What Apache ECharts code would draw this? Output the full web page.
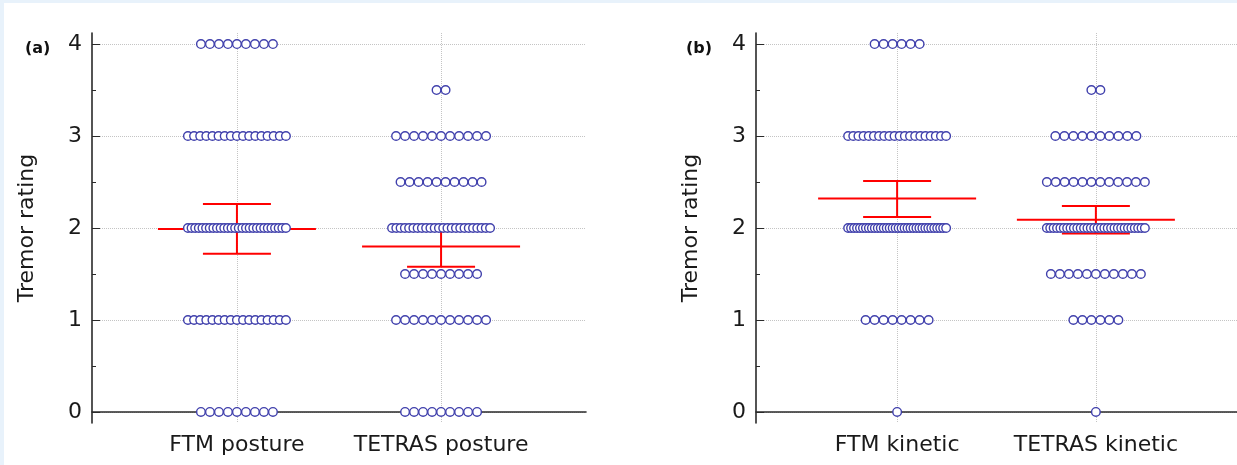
<!DOCTYPE html>
<html>
<head>
<meta charset="utf-8">
<script src="https://cdn.jsdelivr.net/npm/echarts@6/dist/echarts.min.js"></script>
<style>
  html, body { margin: 0; background: #e8f2fb; }
  #chart { position: absolute; left: 4px; top: 3px; width: 1233px; height: 462px; background: #fff; }
</style>
</head>
<body>
<div id="chart"></div>
<script>
const ratingLevels = [0, 0.5, 1, 1.5, 2, 2.5, 3, 3.5, 4]
const postureCategories = ['FTM posture', 'TETRAS posture']
const kineticCategories = ['FTM kinetic', 'TETRAS kinetic']

// subjects per rating level (same order as ratingLevels)
const ftmPostureCounts    = [9, 0, 17, 0, 28, 0, 17, 0, 9]
const tetrasPostureCounts = [9, 0, 11, 9, 24, 10, 11, 2, 0]
const ftmKineticCounts    = [1, 0, 8, 0, 34, 0, 20, 0, 6]
const tetrasKineticCounts = [1, 0, 6, 11, 30, 12, 10, 2, 0]

// mean with 95% CI
const postureMean  = [1.99, 1.80]
const postureLower = [1.72, 1.58]
const postureUpper = [2.26, 2.02]
const kineticMean  = [2.32, 2.09]
const kineticLower = [2.12, 1.94]
const kineticUpper = [2.51, 2.24]

const yTicks = [0, 1, 2, 3, 4]
const catTicks = [1, 2]

const FONT = 'DejaVu Sans'
const DOT = '#4040ac'
const RED = '#ff0000'

// one item per dot: [category pos, rating, index in row, row size]
const dotData = (pos, counts) =>
  counts.flatMap((n, li) => Array.from({ length: n }, (_, i) => [pos, ratingLevels[li], i, n]))

const renderDots = (params, api) => {
  const n = api.value(3)
  const i = api.value(2)
  const [cx, cy] = api.coord([api.value(0), api.value(1)])
  const step = n > 1 ? Math.min(9, 98 / (n - 1)) : 0
  return {
    type: 'circle',
    shape: { cx: cx + (i - (n - 1) / 2) * step, cy, r: 4.3 },
    style: { fill: '#fff', stroke: DOT, lineWidth: 1.4 },
  }
}

const renderBars = (params, api) => {
  const [x, m] = api.coord([api.value(0), api.value(1)])
  const lo = api.coord([api.value(0), api.value(2)])[1]
  const hi = api.coord([api.value(0), api.value(3)])[1]
  const style = { stroke: RED, lineWidth: 2 }
  const seg = (x1, y1, x2, y2) => ({ type: 'line', shape: { x1, y1, x2, y2 }, style })
  return {
    type: 'group',
    children: [
      seg(x - 79, m, x + 79, m),
      seg(x, lo, x, hi),
      seg(x - 34, lo, x + 34, lo),
      seg(x - 34, hi, x + 34, hi),
    ],
  }
}

const gridLine = { show: true, lineStyle: { color: '#c4c4c4', type: 'dotted', width: 1 } }
const axisLine = { show: true, lineStyle: { color: '#2a2a2a', width: 1.6 } }

const xAxisFor = (gridIndex, cats) => ({
  type: 'value', gridIndex, min: 0.29, max: 2.71, splitNumber: 2,
  axisLine,
  axisTick: { show: true, inside: true, length: 5, customValues: catTicks, lineStyle: { color: '#2a2a2a' } },
  axisLabel: { customValues: catTicks, formatter: v => cats[Math.round(v) - 1],
    fontFamily: FONT, fontSize: 22, color: '#1a1a1a', margin: 11 },
  splitLine: gridLine,
})

const yAxisFor = (gridIndex) => ({
  type: 'value', gridIndex, min: -0.12, max: 4.12,
  name: 'Tremor rating', nameLocation: 'middle', nameRotate: 90, nameGap: 54,
  nameTextStyle: { fontFamily: FONT, fontSize: 22, color: '#1a1a1a' },
  axisLine,
  axisTick: { show: true, inside: true, length: 8, customValues: yTicks, lineStyle: { color: '#2a2a2a' } },
  minorTick: { show: true, splitNumber: 2, length: 4, lineStyle: { color: '#2a2a2a' } },
  axisLabel: { customValues: yTicks, fontFamily: FONT, fontSize: 22, color: '#1a1a1a', margin: 10 },
  splitLine: gridLine,
})

const panelSeries = (idx, counts, mean, lower, upper) => [
  {
    type: 'custom', xAxisIndex: idx, yAxisIndex: idx, z: 2,
    renderItem: renderBars,
    data: mean.map((m, i) => [catTicks[i], m, lower[i], upper[i]]),
  },
  ...counts.map((c, i) => ({
    type: 'custom', xAxisIndex: idx, yAxisIndex: idx, z: 3,
    renderItem: renderDots,
    data: dotData(catTicks[i], c),
  })),
]

const chart = echarts.init(document.getElementById('chart'))
chart.setOption({
  animation: false,
  backgroundColor: '#fff',
  title: [
    { text: '(a)', left: 16, top: 33, textStyle: { fontFamily: FONT, fontSize: 16, fontWeight: 'bold', color: '#111' } },
    { text: '(b)', left: 677, top: 33, textStyle: { fontFamily: FONT, fontSize: 16, fontWeight: 'bold', color: '#111' } },
  ],
  grid: [
    { left: 88, right: 651, top: 30, bottom: 42 },
    { left: 752, right: -13, top: 30, bottom: 42 },
  ],
  xAxis: [xAxisFor(0, postureCategories), xAxisFor(1, kineticCategories)],
  yAxis: [yAxisFor(0), yAxisFor(1)],
  series: [
    ...panelSeries(0, [ftmPostureCounts, tetrasPostureCounts], postureMean, postureLower, postureUpper),
    ...panelSeries(1, [ftmKineticCounts, tetrasKineticCounts], kineticMean, kineticLower, kineticUpper),
  ],
})
</script>
</body>
</html>
